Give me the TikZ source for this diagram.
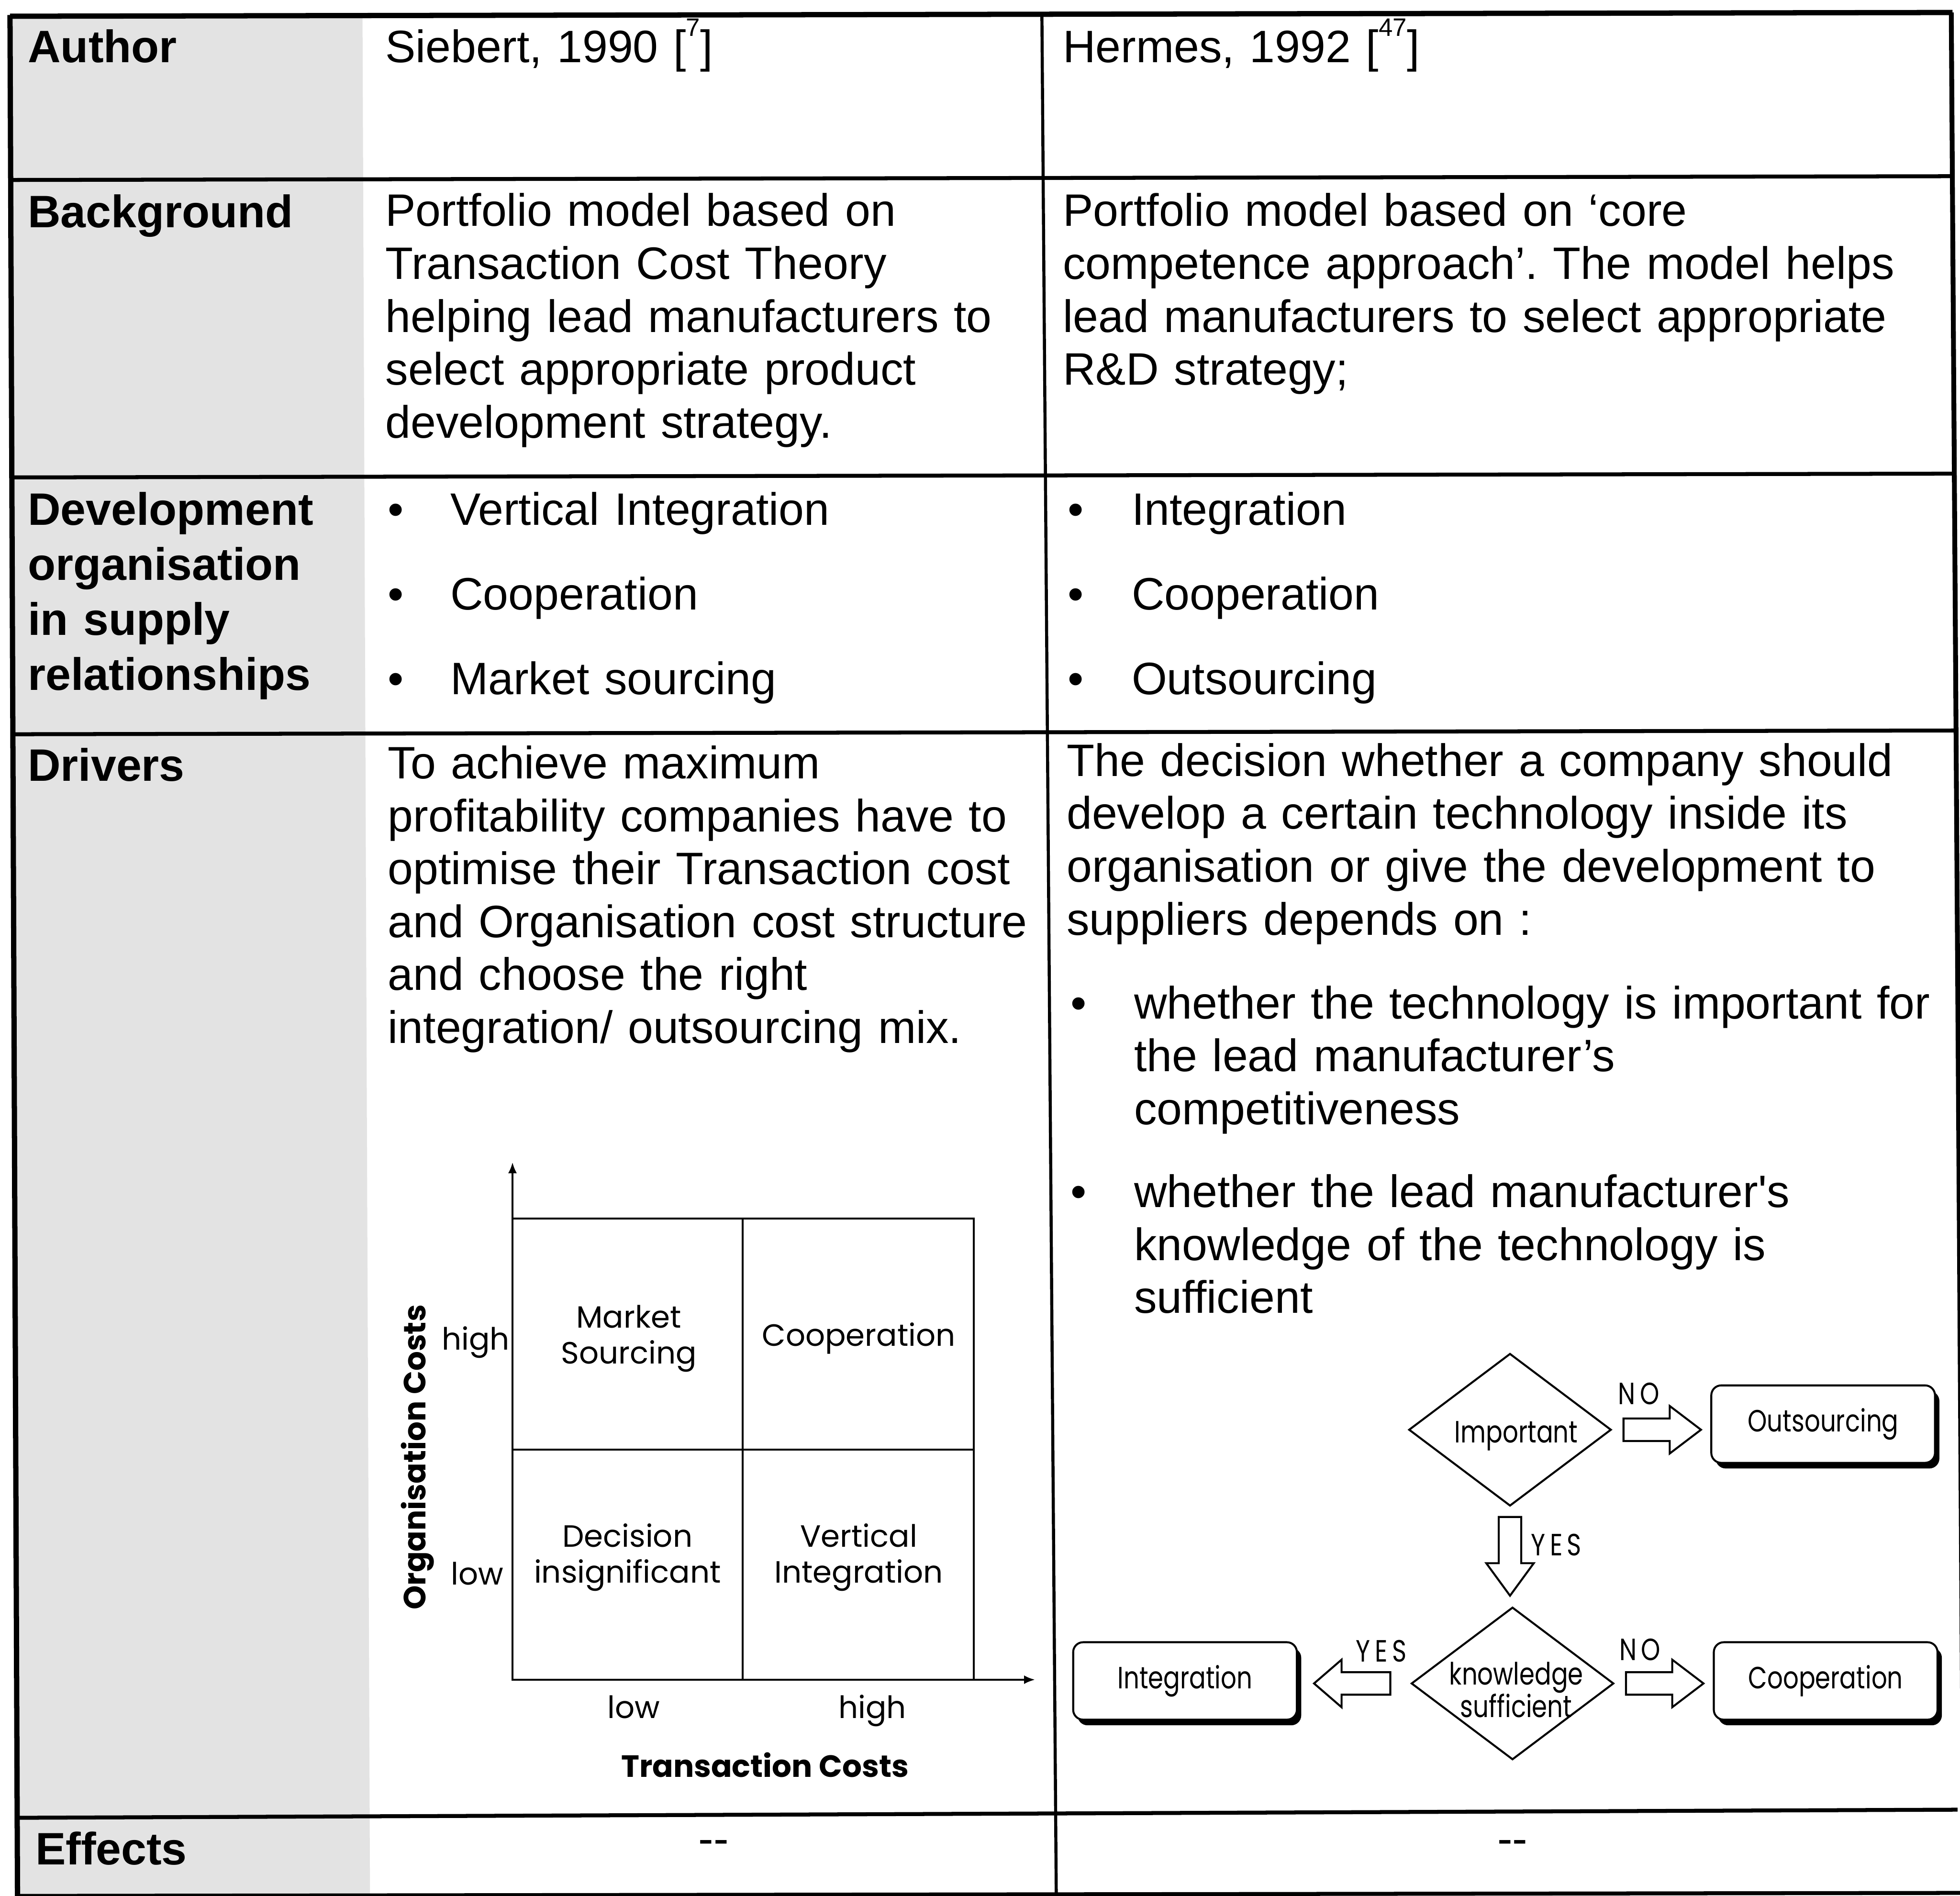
\documentclass[tikz,border=0pt]{standalone}
\usepackage{fontspec}
\setmainfont{Liberation Sans}
\newfontfamily\chartfont{Poppins}
\newfontfamily\flowfont[FakeStretch=0.8]{Poppins}
\newfontfamily\flowlab[FakeStretch=0.8,LetterSpace=15]{Poppins}
\usetikzlibrary{calc,arrows.meta,shapes.geometric,shadows}
\frenchspacing

% raised reference number inside square brackets
\newcommand\refsup[1]{\raisebox{12pt}{\fontsize{11.5}{12}\selectfont #1}}

% hollow block arrow: start point, direction, total length, head length
\newcommand\blockarrow[4]{%
  \draw[blk, shift={(#1)}, rotate=#2]
    (0,-9) -- (#3-#4,-9) -- (#3-#4,-19) -- (#3,0) -- (#3-#4,19) -- (#3-#4,9) -- (0,9) -- cycle;}

\begin{document}
\begin{tikzpicture}[x=0.02cm, y=-0.02cm,
  rule/.style={line width=1.8pt},
  vrule/.style={line width=1.4pt},
  txt/.style={anchor=base west, inner sep=0, text width=13.5cm, align=left,
    font=\fontsize{20.7}{24.1}\selectfont},
  lbl/.style={anchor=base west, inner sep=0, text width=6cm, align=left,
    font=\bfseries\fontsize{20.7}{25.1}\selectfont},
  bul/.style={anchor=base west, inner sep=0, text width=1cm, align=left,
    font=\fontsize{20.7}{38.6}\selectfont},
  wide/.style={font=\fontsize{20.7}{38.6}\selectfont},
  chartline/.style={line width=0.8pt},
  cq/.style={inner sep=0, align=center, font=\chartfont\fontsize{14}{16.4}\selectfont},
  cqb/.style={inner sep=0, align=center, font=\chartfont\bfseries\fontsize{14}{16.4}\selectfont},
  dia/.style={diamond, draw, line width=0.9pt, minimum width=3.24cm, minimum height=2.44cm, inner sep=0},
  ftxt/.style={inner sep=0, align=center, font=\flowfont\fontsize{14}{14.7}\selectfont},
  flab/.style={inner sep=0, font=\flowlab\fontsize{14}{15}\selectfont},
  fbox/.style={draw, line width=0.9pt, rounded corners=0.16cm, fill=white,
    minimum width=3.58cm, minimum height=1.24cm, inner sep=0,
    font=\flowfont\fontsize{14}{15}\selectfont,
    drop shadow={shadow xshift=0.07cm, shadow yshift=-0.09cm, opacity=1, fill=black}},
  blk/.style={draw, line width=0.9pt, fill=white, line join=miter}]

\useasboundingbox (0,0) rectangle (1568,1517);

% shaded label column
\fill[black!11] (8,12) -- (290,12) -- (296,1517) -- (14,1517) -- cycle;

% table rules
\draw[line width=2.4pt] (8,13) -- (1562,10);
\draw[rule] (8,144) -- (1562,141);
\draw[rule] (9,382) -- (1562,379);
\draw[rule] (10,587.5) -- (1563,584.5);
\draw[rule] (14,1454.5) -- (1566,1448);
\draw[rule] (14,1517) -- (1568,1514.6);
\draw[line width=2.4pt] (8,12) -- (14,1517);
\draw[vrule] (833.5,10.5) -- (845,1516);
\draw[line width=2.2pt] (1561,10) -- (1571,1515);

% Author
\node[lbl] (lAuthor) at (22,50) {Author};
\node[txt] (aL) at (308,50) {Siebert, 1990 [\refsup{7}]};
\node[txt] (aR) at (850,50) {Hermes, 1992 [\refsup{47}]};

% Background
\node[lbl] (lBack) at (22,182) {Background};
\node[txt] (bL) at (308,181) {Portfolio model based on\\Transaction Cost Theory\\helping lead manufacturers to\\select appropriate product\\development strategy.};
\node[txt] (bR) at (850,181) {Portfolio model based on ‘core\\competence approach’. The model helps\\lead manufacturers to select appropriate\\R\&D strategy;};

% Development organisation
\node[lbl] (lDev) at (22,420) {Development\\organisation\\in supply\\relationships};
\node[bul] (dLb) at (310,420) {\textbullet\\\textbullet\\\textbullet};
\node[txt, wide] (dL) at (360,420) {Vertical Integration\\Cooperation\\Market sourcing};
\node[bul] (dRb) at (854,420) {\textbullet\\\textbullet\\\textbullet};
\node[txt, wide] (dR) at (905,420) {Integration\\Cooperation\\Outsourcing};

% Drivers
\node[lbl] (lDrv) at (22,625) {Drivers};
\node[txt] (drL) at (310,623) {To achieve maximum\\profitability companies have to\\optimise their Transaction cost\\and Organisation cost structure\\and choose the right\\integration/ outsourcing mix.};
\node[txt] (drR) at (853,621) {The decision whether a company should\\develop a certain technology inside its\\organisation or give the development to\\suppliers depends on :};
\node[bul] (b1dot) at (856,815) {\textbullet};
\node[txt] (b1) at (907,815) {whether the technology is important for\\the lead manufacturer’s\\competitiveness};
\node[bul] (b2dot) at (856,966) {\textbullet};
\node[txt] (b2) at (907,966) {whether the lead manufacturer\textquotesingle s\\knowledge of the technology is\\sufficient};

% portfolio chart
\coordinate (O) at (410,1344);
\coordinate (ytop) at (410,930);
\coordinate (xend) at (828,1344);
\draw[chartline, -{Latex[length=5pt,width=4pt]}] (O) -- (ytop);
\draw[chartline, -{Latex[length=5pt,width=4pt]}] (O) -- (xend);
\draw[chartline] (410,975) rectangle (779,1344);
\draw[chartline] (594,975) -- (594,1344);
\draw[chartline] (410,1160) -- (779,1160);
\node[cq] (qMS) at (503,1071) {Market\\Sourcing};
\node[cq] (qCO) at (687,1071) {Cooperation};
\node[cq] (qDI) at (502,1246) {Decision\\insignificant};
\node[cq] (qVI) at (687,1246) {Vertical\\Integration};
\node[cq, anchor=base east] (yHigh) at (408,1080) {high};
\node[cq, anchor=base east] (yLow) at (403,1268) {low};
\node[cq, anchor=base] (xLow) at (507,1375) {low};
\node[cq, anchor=base] (xHigh) at (698,1375) {high};
\node[cqb] (xTitle) at (612,1412) {Transaction Costs};
\node[cqb, rotate=90] (yTitle) at (334,1166) {Organisation Costs};

% decision flow
\node[dia] (imp) at (1208,1144) {};
\node[ftxt] (impT) at (1213,1149) {Important};
\node[fbox] (out) at (1458.5,1139.5) {Outsourcing};
\node[dia] (know) at (1210,1347) {};
\node[ftxt] (knowT) at (1213,1352) {knowledge\\sufficient};
\node[fbox] (integ) at (948,1345) {Integration};
\node[fbox] (coop) at (1460.5,1345) {Cooperation};

\blockarrow{$(imp.east)+(9,0)$}{0}{62}{25}
\blockarrow{$(imp.south)+(0,8)$}{-90}{63}{26}
\blockarrow{$(know.west)+(-16,0)$}{180}{61}{22}
\blockarrow{$(know.east)+(9,0)$}{0}{62}{25}

\node[flab] (no1) at (1311,1115) {NO};
\node[flab] (yes1) at (1245,1236) {YES};
\node[flab] (yes2) at (1105,1321) {YES};
\node[flab] (no2) at (1312,1320) {NO};

% Effects
\node[lbl] (lEff) at (28,1492) {Effects};
\node[inner sep=0, font=\fontsize{20.7}{24}\selectfont] (eL) at (571,1478) {-{}-};
\node[inner sep=0, font=\fontsize{20.7}{24}\selectfont] (eR) at (1210,1478) {-{}-};
\end{tikzpicture}
\end{document}
